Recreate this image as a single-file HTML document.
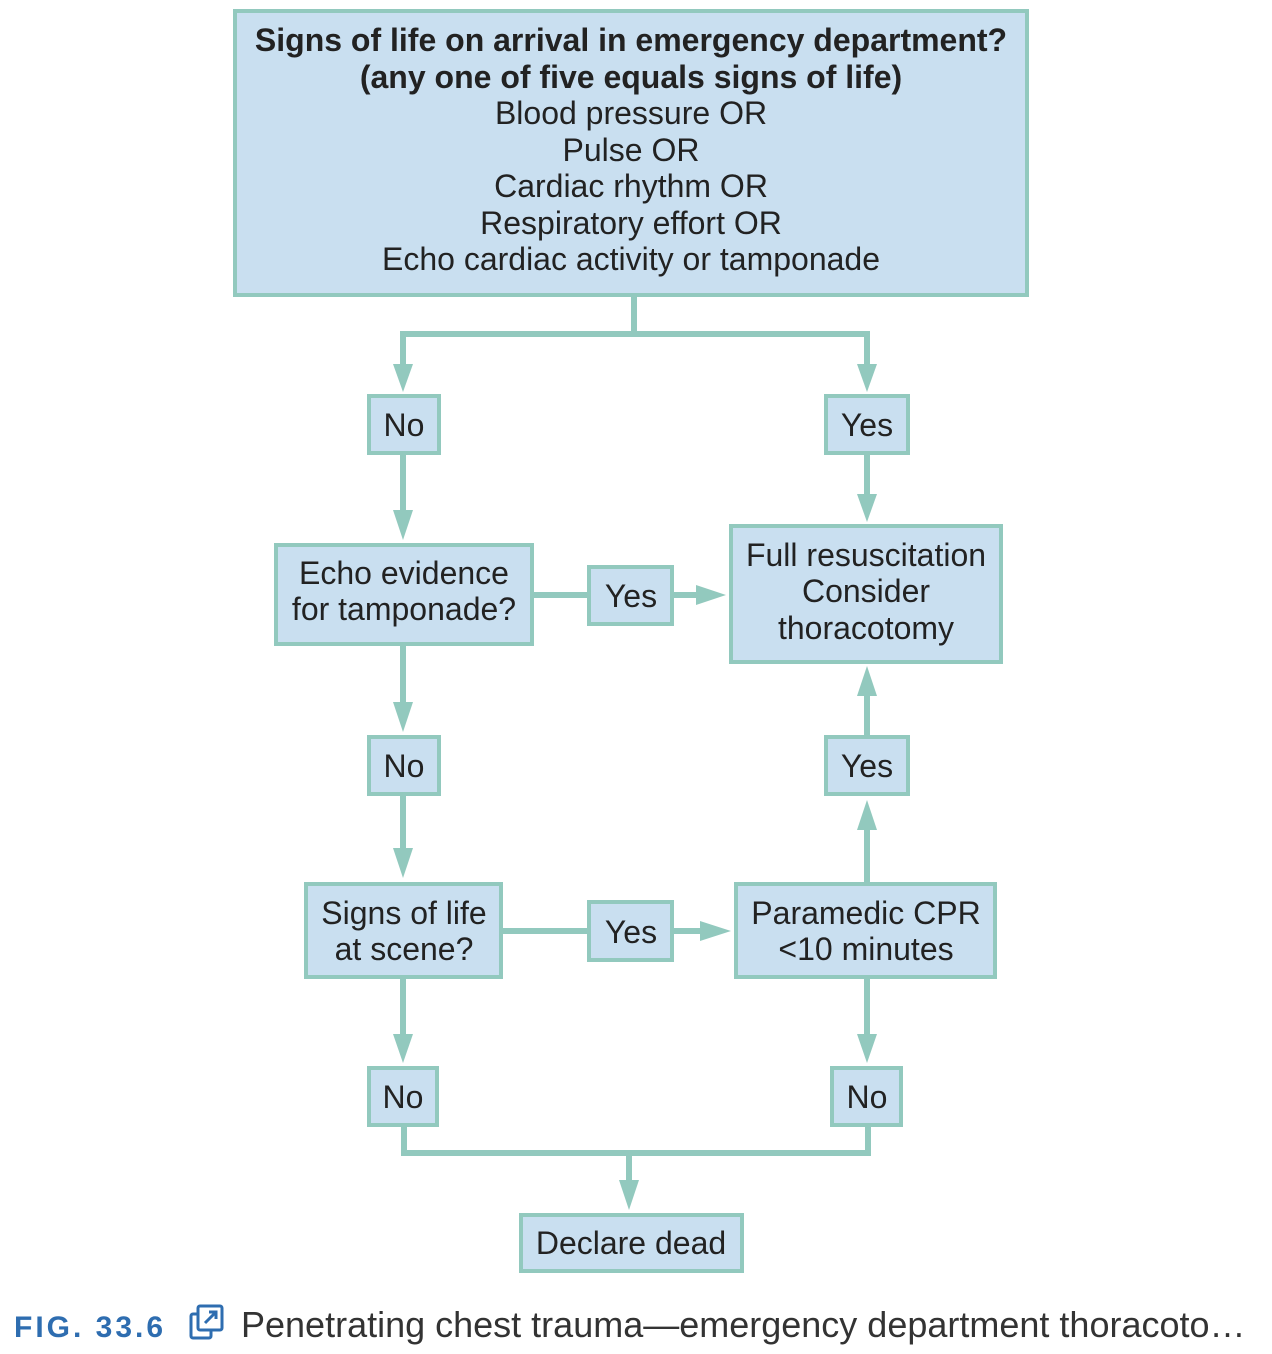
<!DOCTYPE html>
<html><head><meta charset="utf-8"><style>
html,body{margin:0;padding:0;background:#fff;width:1272px;height:1354px;overflow:hidden}
svg{display:block}
.b{fill:#c9dff0;stroke:#92c9be;stroke-width:4}
.l{stroke:#92c9be;stroke-width:6;fill:none}
.a{fill:#92c9be}
text{font-family:"Liberation Sans",sans-serif;fill:#222;font-size:32px;text-anchor:middle}
.bo{font-weight:bold;font-size:32px}
</style></head><body>
<svg width="1272" height="1354" viewBox="0 0 1272 1354">
<rect class="b" x="235" y="11" width="792" height="284"/>
<text class="bo" x="631" y="51">Signs of life on arrival in emergency department?</text>
<text class="bo" x="631" y="88">(any one of five equals signs of life)</text>
<text x="631" y="124">Blood pressure OR</text>
<text x="631" y="161">Pulse OR</text>
<text x="631" y="197">Cardiac rhythm OR</text>
<text x="631" y="234">Respiratory effort OR</text>
<text x="631" y="270">Echo cardiac activity or tamponade</text>

<path class="l" d="M634 297V334M401 334H870M403 331V370M867 331V370"/>
<polygon class="a" points="393,364 413,364 403,392"/>
<polygon class="a" points="857,364 877,364 867,392"/>

<rect class="b" x="369" y="396" width="70" height="57"/><text x="404" y="436">No</text>
<rect class="b" x="826" y="396" width="82" height="57"/><text x="867" y="436">Yes</text>

<path class="l" d="M403 455V515M867 455V500"/>
<polygon class="a" points="393,510 413,510 403,540"/>
<polygon class="a" points="857,494 877,494 867,522"/>

<rect class="b" x="276" y="545" width="256" height="99"/>
<text x="404" y="584">Echo evidence</text><text x="404" y="620">for tamponade?</text>
<path class="l" d="M533 595H589M673 595H700"/>
<rect class="b" x="589" y="567" width="83" height="57"/><text x="631" y="607">Yes</text>
<polygon class="a" points="696,585 696,605 726,595"/>

<rect class="b" x="731" y="526" width="270" height="136"/>
<text x="866" y="566">Full resuscitation</text><text x="866" y="602">Consider</text><text x="866" y="639">thoracotomy</text>

<path class="l" d="M403 646V708M867 690V736"/>
<polygon class="a" points="393,702 413,702 403,732"/>
<polygon class="a" points="857,696 877,696 867,666"/>

<rect class="b" x="369" y="737" width="70" height="57"/><text x="404" y="777">No</text>
<rect class="b" x="826" y="737" width="82" height="57"/><text x="867" y="777">Yes</text>

<path class="l" d="M403 796V852M867 826V883"/>
<polygon class="a" points="393,848 413,848 403,878"/>
<polygon class="a" points="857,830 877,830 867,800"/>

<rect class="b" x="306" y="884" width="195" height="93"/>
<text x="404" y="924">Signs of life</text><text x="404" y="960">at scene?</text>
<path class="l" d="M502 931H589M673 931H705"/>
<rect class="b" x="589" y="902" width="83" height="58"/><text x="631" y="943">Yes</text>
<polygon class="a" points="700,921 700,941 731,931"/>
<rect class="b" x="736" y="884" width="259" height="93"/>
<text x="866" y="924">Paramedic CPR</text><text x="866" y="960">&lt;10 minutes</text>

<path class="l" d="M403 979V1040M867 979V1040"/>
<polygon class="a" points="393,1034 413,1034 403,1063"/>
<polygon class="a" points="857,1034 877,1034 867,1063"/>

<rect class="b" x="369" y="1068" width="68" height="57"/><text x="403" y="1108">No</text>
<rect class="b" x="832" y="1068" width="69" height="57"/><text x="867" y="1108">No</text>

<path class="l" d="M404 1127V1153H868V1127M629 1153V1185"/>
<polygon class="a" points="619,1180 639,1180 629,1210"/>
<rect class="b" x="521" y="1215" width="221" height="56"/><text x="631" y="1254">Declare dead</text>

<text x="14" y="1337" style="font-size:30px;fill:#2e6db0;text-anchor:start;letter-spacing:3px;font-weight:bold">FIG. 33.6</text>
<g fill="none" stroke="#2e6db0" stroke-width="3">
<rect x="191" y="1314" width="20" height="24" rx="2"/>
<rect x="198" y="1306" width="24" height="24" rx="2" fill="#fff"/>
<path d="M205 1323L216 1312M209 1312H216V1319"/>
</g>
<text x="241" y="1337" style="font-size:36px;fill:#333;text-anchor:start">Penetrating chest trauma—emergency department thoracoto…</text>
</svg>
</body></html>
